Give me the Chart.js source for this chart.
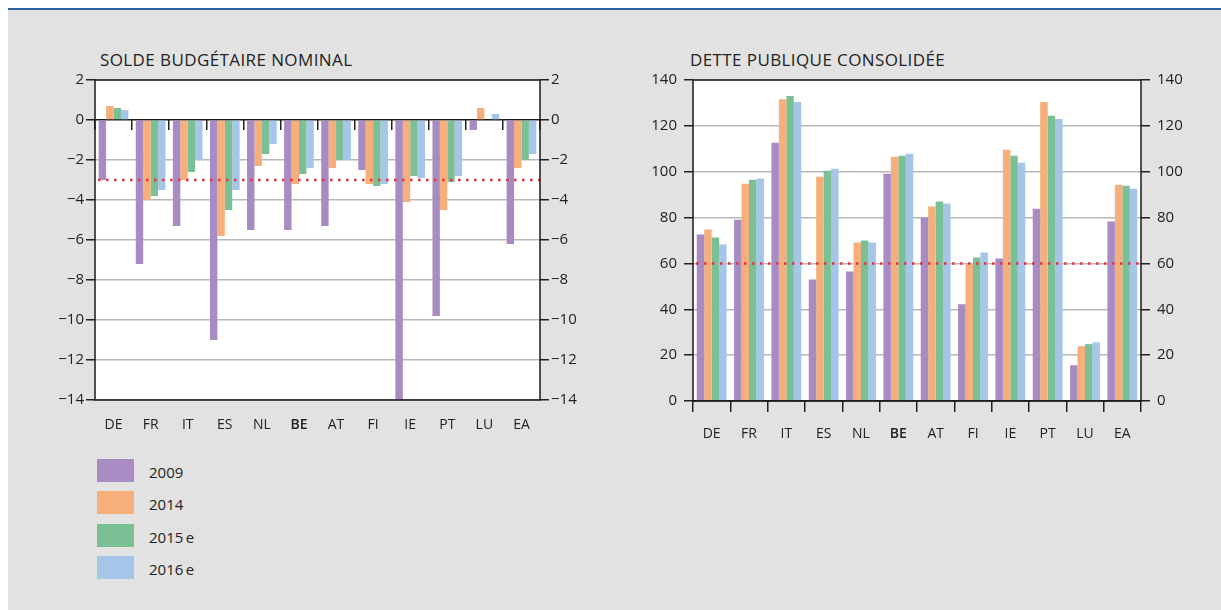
<!DOCTYPE html>
<html lang="fr">
<head>
<meta charset="utf-8">
<title>Solde budgétaire et dette publique</title>
<script src="https://cdn.jsdelivr.net/npm/chart.js@4.4.0/dist/chart.umd.min.js"></script>
<style>
  body { margin: 0; background: #fff; font-family: 'Open Sans', sans-serif; color: #222; }
  #page { position: relative; width: 1221px; height: 610px; overflow: hidden; }
  #rule { position: absolute; left: 8px; top: 8px; width: 1213px; height: 2px; background: #2d5f9a; }
  #panel { position: absolute; left: 8px; top: 10px; width: 1213px; height: 600px; background: #e2e2e2; }
  .title { position: absolute; top: 48px; font-size: 17px; letter-spacing: 0.4px; white-space: nowrap; }
  canvas { position: absolute; }
  #legend { position: absolute; left: 97px; top: 459px; }
  .item { position: relative; height: 32.3px; font-size: 15px; }
  .swatch { position: absolute; left: 0; top: 0; width: 37px; height: 23px; }
  .label { position: absolute; left: 52px; top: 3px; white-space: nowrap; }
</style>
</head>
<body>
<div id="page">
  <div id="rule"></div>
  <div id="panel"></div>
  <div class="title" style="left:100px">SOLDE BUDGÉTAIRE NOMINAL</div>
  <div class="title" style="left:690px">DETTE PUBLIQUE CONSOLIDÉE</div>
  <canvas id="solde" width="600" height="380" style="left:0;top:70px"></canvas>
  <canvas id="dette" width="601" height="381" style="left:620px;top:70px"></canvas>
  <div id="legend"></div>
</div>
<script>
// categories and series (% du PIB)
const countries = ['DE', 'FR', 'IT', 'ES', 'NL', 'BE', 'AT', 'FI', 'IE', 'PT', 'LU', 'EA'];
const years = ['2009', '2014', '2015\u2009e', '2016\u2009e'];

const solde2009 = [-3.0, -7.2, -5.3, -11.0, -5.5, -5.5, -5.3, -2.5, -14.0, -9.8, -0.5, -6.2];
const solde2014 = [0.7, -4.0, -3.0, -5.8, -2.3, -3.2, -2.4, -3.2, -4.1, -4.5, 0.6, -2.4];
const solde2015 = [0.6, -3.8, -2.6, -4.5, -1.7, -2.7, -2.0, -3.3, -2.8, -3.1, null, -2.0];
const solde2016 = [0.5, -3.5, -2.0, -3.5, -1.2, -2.4, -2.0, -3.2, -2.9, -2.8, 0.3, -1.7];

const dette2009 = [72.6, 79.1, 112.6, 53.0, 56.5, 99.1, 80.0, 42.2, 62.2, 83.9, 15.6, 78.3];
const dette2014 = [74.8, 94.8, 131.6, 97.8, 69.1, 106.5, 84.8, 59.6, 109.6, 130.4, 23.9, 94.3];
const dette2015 = [71.3, 96.5, 133.0, 100.4, 70.0, 107.0, 87.0, 62.6, 107.0, 124.4, 24.8, 93.9];
const dette2016 = [68.3, 97.0, 130.4, 101.3, 69.1, 107.8, 86.1, 64.8, 103.9, 123.0, 25.6, 92.6];

const soldeTicks = [2, 0, -2, -4, -6, -8, -10, -12, -14];
const detteTicks = [140, 120, 100, 80, 60, 40, 20, 0];

// Maastricht thresholds
const soldeLimit = -3;
const detteLimit = 60;

const colours = ['#a78bc2', '#f6ae7a', '#7bbf95', '#a5c6e9'];

Chart.defaults.font.family = "'Open Sans', sans-serif";
Chart.defaults.color = '#222';

// white plot area, dotted limit line and black frame
const framePlugin = {
    id: 'frame',
    beforeDraw(chart) {
        const a = chart.chartArea;
        const c = chart.ctx;
        c.save();
        c.fillStyle = '#fff';
        c.fillRect(a.left, a.top, a.width, a.height);
        c.restore();
    },
    afterDatasetsDraw(chart, args, opts) {
        const a = chart.chartArea;
        const c = chart.ctx;
        const y = chart.scales.y.getPixelForValue(opts.limit);
        c.save();
        c.strokeStyle = '#e2343f';
        c.lineWidth = 2.5;
        c.setLineDash([2.5, 5.5]);
        c.beginPath();
        c.moveTo(a.left + 3, y);
        c.lineTo(a.right, y);
        c.stroke();
        c.setLineDash([]);
        c.strokeStyle = '#1a1a1a';
        c.lineWidth = 1.5;
        c.strokeRect(a.left, a.top, a.width, a.height);
        c.restore();
    }
};

function fmt(v) {
    return String(v).replace('-', '\u2212');
}

function catFont(ctx) {
    const bold = ctx.tick && ctx.tick.label === 'BE';
    return { size: 14, weight: bold ? '600' : '400' };
}

function makeDatasets(series) {
    return series.map((data, i) => ({
        label: years[i],
        data: data,
        backgroundColor: colours[i],
        borderWidth: 0,
        barPercentage: 1,
        categoryPercentage: 0.8
    }));
}

function yAxis(side, tickList, width, pad) {
    return {
        position: side,
        min: Math.min(...tickList),
        max: Math.max(...tickList),
        grid: {
            drawOnChartArea: side === 'left',
            color: ctx => ctx.tick && ctx.tick.value === 0 ? '#1a1a1a' : '#b8b8b8',
            lineWidth: 1.5,
            tickColor: '#222',
            tickLength: 9
        },
        border: { display: false },
        ticks: { padding: pad, font: { size: 15 }, callback: fmt },
        afterBuildTicks: s => { s.ticks = tickList.map(v => ({ value: v })); },
        afterFit: s => {
            s.width = width;
            // the top padding is set by the layout, not by the labels
            s.paddingTop = 0;
            s.paddingBottom = 0;
        }
    };
}

// left chart: solde budgétaire
new Chart(document.getElementById('solde'), {
    type: 'bar',
    data: {
        labels: countries,
        datasets: makeDatasets([solde2009, solde2014, solde2015, solde2016])
    },
    options: {
        responsive: false,
        animation: false,
        devicePixelRatio: 1,
        layout: { padding: { top: 10 } },
        plugins: {
            legend: { display: false },
            tooltip: { enabled: false },
            frame: { limit: soldeLimit }
        },
        scales: {
            x: {
                position: 'bottom',
                grid: { display: false, drawTicks: false },
                border: { display: false },
                ticks: { padding: 17, font: catFont },
                afterFit: s => { s.height = 50; }
            },
            // axis on the zero line, only for the small separators
            x0: {
                axis: 'x',
                type: 'category',
                position: { y: 0 },
                grid: { drawOnChartArea: false, drawTicks: true, tickLength: 10, tickColor: '#222', lineWidth: 1.5 },
                border: { display: false },
                ticks: { display: false }
            },
            y: yAxis('left', soldeTicks, 95, 2),
            y2: yAxis('right', soldeTicks, 60, 2)
        }
    },
    plugins: [framePlugin]
});

// right chart: dette publique
new Chart(document.getElementById('dette'), {
    type: 'bar',
    data: {
        labels: countries,
        datasets: makeDatasets([dette2009, dette2014, dette2015, dette2016])
    },
    options: {
        responsive: false,
        animation: false,
        devicePixelRatio: 1,
        layout: { padding: { top: 10 } },
        plugins: {
            legend: { display: false },
            tooltip: { enabled: false },
            frame: { limit: detteLimit }
        },
        scales: {
            x: {
                position: 'bottom',
                grid: { drawOnChartArea: false, drawTicks: true, tickLength: 11, tickColor: '#222', lineWidth: 1.5 },
                border: { display: false },
                ticks: { padding: 14, font: catFont },
                afterFit: s => { s.height = 50; }
            },
            y: yAxis('left', detteTicks, 73, 7),
            y2: yAxis('right', detteTicks, 80, 7)
        }
    },
    plugins: [framePlugin]
});

// legend
const legend = document.getElementById('legend');
years.forEach((y, i) => {
    const row = document.createElement('div');
    row.className = 'item';
    row.innerHTML = '<div class="swatch" style="background:' + colours[i] + '"></div><div class="label">' + y + '</div>';
    legend.appendChild(row);
});
</script>
</body>
</html>
